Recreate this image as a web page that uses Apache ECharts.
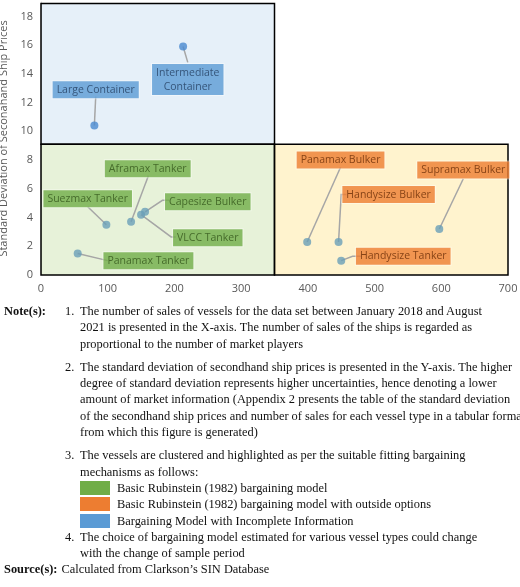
<!DOCTYPE html>
<html><head><meta charset="utf-8">
<script src="https://cdn.jsdelivr.net/npm/echarts@6/dist/echarts.min.js"></script>
<style>
body{margin:0;width:520px;height:587px;background:#fff;overflow:hidden}
#c{width:520px;height:300px}
#n{font-family:"Liberation Serif","Times New Roman",serif;font-size:12.4px;line-height:16.3px;color:#111;position:absolute;top:303px;left:4px;width:516px;white-space:nowrap}
.r{display:flex}.h{width:61px;font-weight:bold;flex:none}.k{width:15px;flex:none}
.t{flex:1}.g{margin-top:7px}
.sw{display:inline-block;width:30px;height:14px;vertical-align:-3px;margin-right:7px}
</style></head><body>
<div id="c"></div>
<div id="n">
<div class="r"><div class="h">Note(s):</div><div class="k">1.</div><div class="t">The number of sales of vessels for the data set between January 2018 and August<br>2021 is presented in the X-axis. The number of sales of the ships is regarded as<br>proportional to the number of market players</div></div>
<div class="r g"><div class="h"></div><div class="k">2.</div><div class="t">The standard deviation of secondhand ship prices is presented in the Y-axis. The higher<br>degree of standard deviation represents higher uncertainties, hence denoting a lower<br>amount of market information (Appendix 2 presents the table of the standard deviation<br>of the secondhand ship prices and number of sales for each vessel type in a tabular format<br>from which this figure is generated)</div></div>
<div class="r g"><div class="h"></div><div class="k">3.</div><div class="t">The vessels are clustered and highlighted as per the suitable fitting bargaining<br>mechanisms as follows:<br>
<span class="sw" style="background:#70ad47"></span>Basic Rubinstein (1982) bargaining model<br>
<span class="sw" style="background:#ed7d31"></span>Basic Rubinstein (1982) bargaining model with outside options<br>
<span class="sw" style="background:#5b9bd5"></span>Bargaining Model with Incomplete Information</div></div>
<div class="r"><div class="h"></div><div class="k">4.</div><div class="t">The choice of bargaining model estimated for various vessel types could change<br>with the change of sample period</div></div>
<div class="r"><div class="h" style="width:auto;margin-right:4px">Source(s):</div><div class="t">Calculated from Clarkson’s SIN Database</div></div>
</div>
<script>
const names=['Large Container','Intermediate\nContainer','Aframax Tanker','Suezmax Tanker','Capesize Bulker','VLCC Tanker','Panamax Tanker','Panamax Bulker','Handysize Bulker','Supramax Bulker','Handysize Tanker'];
const groups=['b','b','g','g','g','g','g','o','o','o','o'];
const sales=[80,213,135,98,156,150,55,399,446,597,450];
const stdev=[10.4,15.9,3.7,3.5,4.4,4.2,1.5,2.3,2.3,3.2,1.0];
const labelPos=[[82,12.9],[220,13.6],[160,7.4],[70,5.3],[250,5.1],[250,2.6],[161,1.0],[449,8.0],[521,5.6],[633,7.3],[543,1.3]];
const leaderVia=[[[82,12.4]],[[220,14.8]],[[161,6.9]],[[70,4.75]],[[182,5.2],[192,5.2]],[[195,2.65],[202,2.65]],[[100,1.0]],[[449,7.5]],[[450,5.6],[458,5.6]],[[633,6.7]],[[467,1.3],[480,1.3]]];
const xTicks=[0,100,200,300,400,500,600,700];
const yTicks=[0,2,4,6,8,10,12,14,16,18];
const fill={b:'#5b9bd5',g:'#70ad47',o:'#ed7d31'};
const txt={b:'#243f60',g:'#34561c',o:'#6b2e08'};
const ch=echarts.init(document.getElementById('c'));
const ax={color:'#595959',fontFamily:'Open Sans',fontSize:11};
ch.setOption({
 animation:false,
 grid:{left:41,right:12,top:2,bottom:25,containLabel:false,outerBoundsMode:'none'},
 xAxis:{type:'value',min:0,max:700,interval:100,axisLine:{show:false},axisTick:{show:false},splitLine:{show:false},
  axisLabel:Object.assign({},ax,{formatter:v=>xTicks.includes(v)?v:''}),
  name:'Number of Sales',nameLocation:'middle',nameGap:18,nameTextStyle:{color:'#595959',fontFamily:'Open Sans',fontSize:11}},
 yAxis:{type:'value',min:0,max:19,interval:2,axisLine:{show:true,lineStyle:{color:'#d9d9d9'}},axisTick:{show:false},splitLine:{show:false},
  axisLabel:Object.assign({},ax,{showMaxLabel:false,formatter:v=>yTicks.includes(v)?v:''}),
  name:'Standard Deviation of Seconahand Ship Prices',nameLocation:'middle',nameGap:24,nameTextStyle:{color:'#595959',fontFamily:'Open Sans',fontSize:11}},
 series:[
  {type:'scatter',data:[],silent:true,markArea:{silent:true,data:[
   [{coord:[0,9.1],itemStyle:{color:'rgba(189,215,238,0.38)',borderColor:'#000',borderWidth:1.5}},{coord:[350,18.9]}],
   [{coord:[0,0],itemStyle:{color:'rgba(197,224,165,0.42)',borderColor:'#000',borderWidth:1.5}},{coord:[350,9.1]}],
   [{coord:[350,0],itemStyle:{color:'rgba(255,217,102,0.32)',borderColor:'#000',borderWidth:1.5}},{coord:[702,9.1]}]]}},
  {type:'lines',coordinateSystem:'cartesian2d',polyline:true,silent:true,z:3,
   lineStyle:{color:'#a6a6a6',width:1.5,opacity:1},
   data:sales.map((s,i)=>({coords:[[s,stdev[i]]].concat(leaderVia[i])}))},
  {type:'scatter',symbolSize:8,z:4,itemStyle:{color:'#5b9bd5'},
   data:sales.map((s,i)=>({value:[s,stdev[i]],itemStyle:{color:groups[i]==='b'?'#4a8ad0':'#6a9fb8'}}))},
  {type:'scatter',symbolSize:0,z:5,
   data:labelPos.map((p,i)=>({value:p,name:names[i],label:{show:true,position:'inside',formatter:'{b}',
     backgroundColor:fill[groups[i]],color:txt[groups[i]],padding:[2,4,1,4],fontSize:10.5,lineHeight:14,
     fontFamily:'Open Sans',borderColor:'rgba(255,255,255,0.5)',borderWidth:1}}))}
 ]
});
</script></body></html>
